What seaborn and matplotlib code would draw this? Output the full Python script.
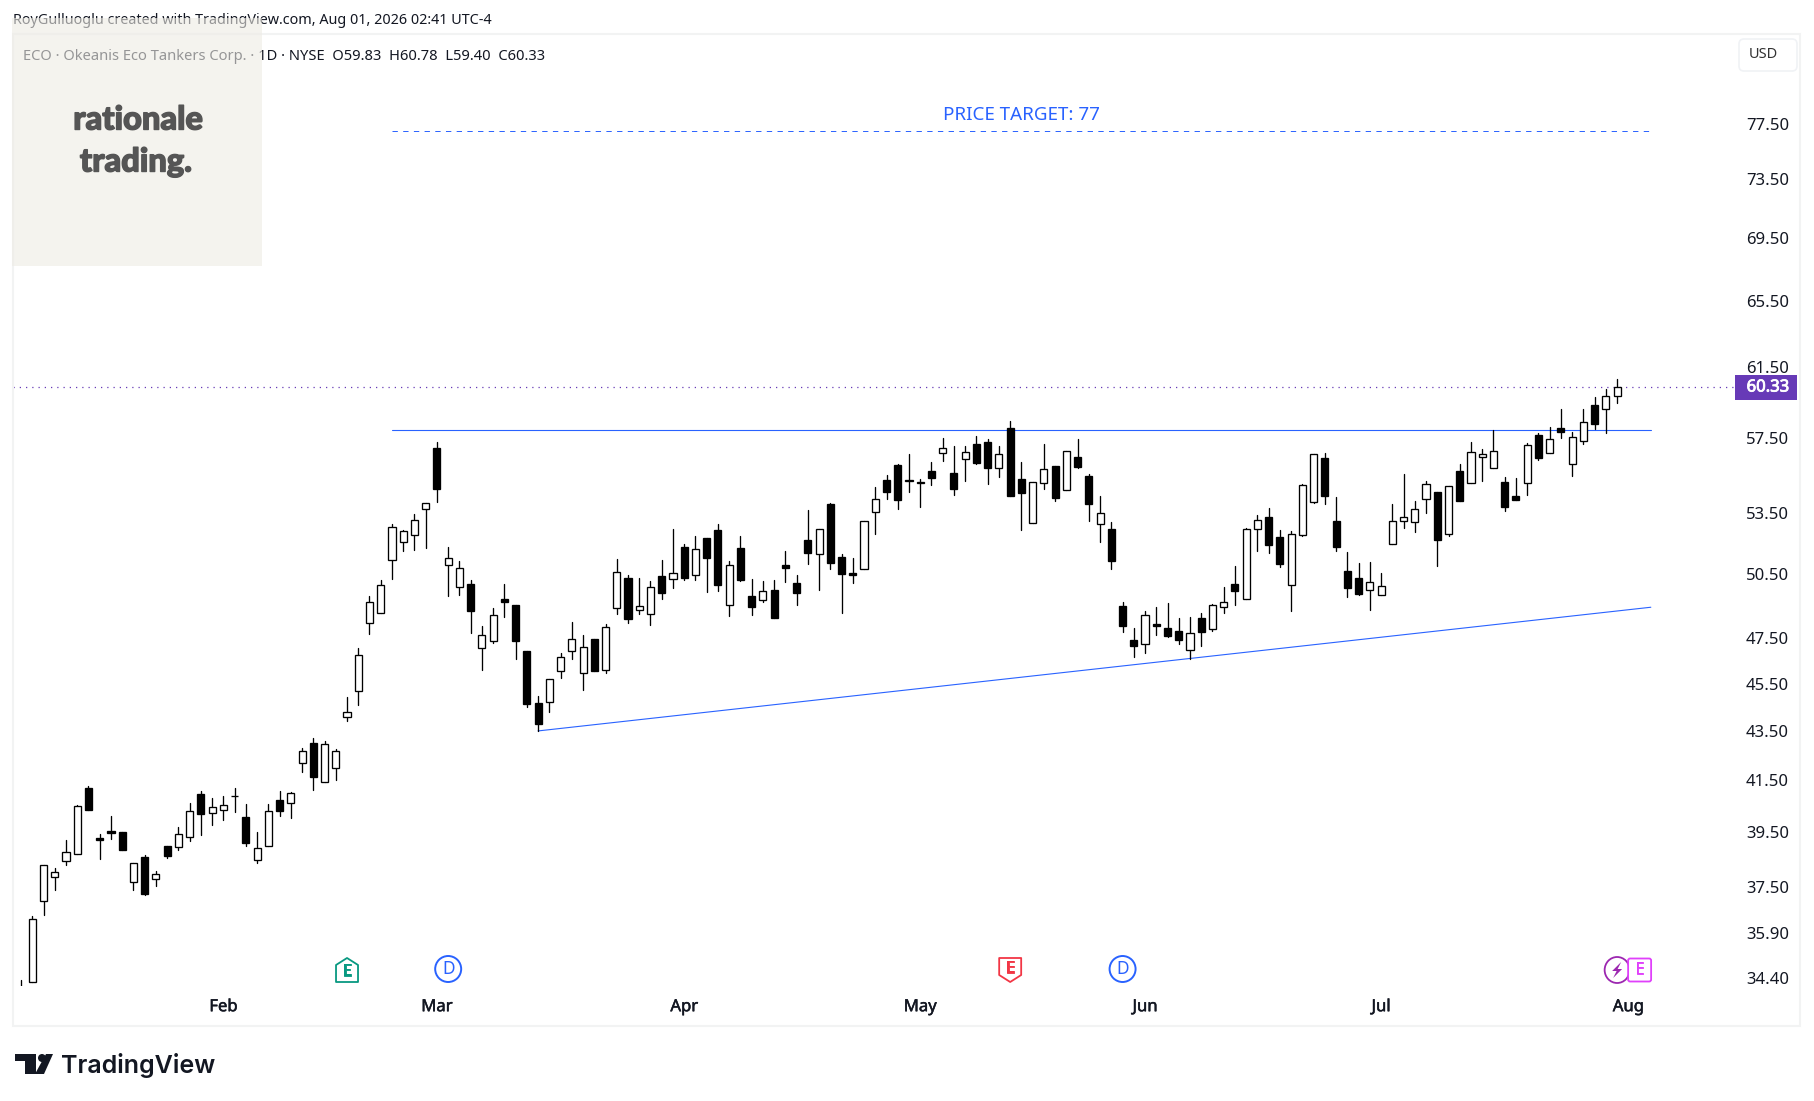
import numpy as np
import pandas as pd
import seaborn as sns
import matplotlib.pyplot as plt
import matplotlib.patheffects as pe
from matplotlib.patches import Rectangle, Polygon, Ellipse, FancyBboxPatch
from matplotlib.ticker import NullLocator

# daily candles, first one is mostly off the bottom of the pane
opens = [34.05,
    34.25, 36.99, 37.85, 38.44, 38.70, 41.20, 39.30, 39.55, 39.52, 37.67,
    38.60, 37.78, 39.00, 38.95, 39.32, 40.98, 40.23, 40.34, 40.88, 40.09,
    38.47, 38.99, 40.75, 40.62, 42.19, 43.01, 41.45, 41.99, 44.08, 45.18,
    48.19, 48.66, 51.18, 52.06, 52.40, 53.72, 56.94, 50.93, 49.87, 50.02,
    47.07, 47.38, 49.32, 49.04, 46.95, 44.68, 44.71, 46.05, 46.93, 45.96,
    47.48, 46.09, 48.89, 50.31, 48.79, 48.61, 50.40, 50.24, 51.83, 50.44,
    52.27, 52.66, 49.02, 51.78, 49.46, 49.25, 49.74, 50.95, 50.07, 52.17,
    51.45, 53.99, 51.34, 50.55, 50.76, 53.55, 55.22, 56.03, 55.17, 55.07,
    55.70, 56.66, 55.60, 56.33, 57.16, 57.26, 55.85, 58.02, 55.27, 53.00,
    55.05, 55.97, 54.69, 56.46, 55.43, 52.95, 52.71, 48.99, 47.44, 47.25,
    48.16, 47.97, 47.84, 46.96, 48.44, 47.94, 48.94, 50.02, 49.31, 52.70,
    53.33, 52.32, 49.96, 52.43, 54.06, 56.40, 53.12, 50.65, 50.31, 49.73,
    49.50, 51.96, 53.11, 53.05, 54.23, 54.61, 52.48, 55.70, 55.08, 56.47,
    55.88, 55.12, 54.40, 55.08, 57.64, 56.66, 58.02, 56.05, 57.33, 59.32,
    59.11, 59.83]
highs = [34.33,
    36.49, 38.29, 38.18, 39.22, 40.55, 41.29, 39.43, 40.13, 39.52, 38.36,
    38.67, 38.07, 39.00, 39.71, 40.63, 41.10, 40.83, 40.90, 41.21, 40.59,
    39.52, 40.59, 41.10, 41.05, 42.81, 43.22, 43.10, 42.77, 44.94, 47.08,
    49.46, 50.21, 52.97, 52.66, 53.48, 54.03, 57.26, 51.83, 51.14, 50.21,
    48.07, 48.91, 50.02, 49.04, 46.95, 44.98, 45.69, 46.86, 48.25, 47.66,
    47.48, 48.16, 51.24, 50.45, 50.31, 50.16, 51.19, 52.71, 51.97, 52.37,
    52.27, 52.97, 51.14, 52.37, 50.26, 50.16, 50.21, 51.63, 50.45, 53.68,
    52.70, 54.04, 51.48, 51.29, 53.11, 54.86, 55.49, 56.08, 56.62, 55.27,
    56.19, 57.48, 57.05, 57.05, 57.59, 57.43, 57.05, 58.42, 56.19, 55.10,
    57.16, 55.97, 56.77, 57.43, 55.54, 54.40, 53.07, 49.18, 47.97, 48.77,
    48.95, 49.14, 48.44, 48.49, 48.67, 49.09, 49.88, 50.90, 52.74, 53.43,
    53.79, 52.66, 52.61, 55.00, 56.60, 56.67, 54.35, 51.58, 51.04, 51.09,
    50.55, 53.99, 55.54, 54.15, 55.17, 54.61, 54.90, 56.08, 57.26, 56.89,
    57.89, 55.38, 55.33, 57.19, 57.75, 58.07, 59.09, 57.80, 59.09, 59.77,
    60.22, 60.78]
lows = [33.50,
    34.25, 36.50, 37.40, 38.31, 38.70, 40.33, 38.50, 39.26, 38.85, 37.38,
    37.23, 37.54, 38.56, 38.83, 39.16, 39.41, 39.78, 39.98, 40.29, 39.00,
    38.38, 38.99, 40.13, 40.05, 41.84, 41.13, 41.42, 41.52, 43.92, 44.60,
    47.70, 48.66, 50.26, 51.63, 51.68, 51.78, 54.10, 49.46, 49.51, 47.75,
    46.10, 47.30, 48.49, 46.59, 44.51, 43.50, 44.30, 45.75, 46.59, 45.24,
    46.06, 45.97, 48.63, 48.21, 48.63, 48.11, 49.32, 49.84, 50.21, 50.21,
    49.65, 49.70, 48.53, 50.16, 48.58, 49.18, 48.44, 50.12, 49.04, 51.00,
    49.74, 50.75, 48.67, 50.07, 50.76, 52.46, 54.25, 53.73, 54.61, 53.83,
    54.96, 56.24, 54.45, 55.17, 56.08, 55.02, 55.38, 54.40, 52.66, 53.00,
    54.76, 54.15, 54.69, 55.86, 53.12, 52.07, 50.75, 47.79, 46.68, 46.86,
    47.66, 47.57, 47.26, 46.59, 47.17, 47.85, 48.67, 49.04, 49.31, 51.63,
    51.53, 50.85, 48.77, 52.38, 54.01, 53.99, 51.63, 49.41, 49.51, 48.81,
    49.50, 51.96, 52.76, 52.56, 53.53, 50.90, 52.37, 54.15, 55.08, 55.17,
    55.88, 53.63, 54.20, 54.45, 56.30, 56.66, 57.48, 55.43, 57.16, 57.97,
    57.75, 59.40]
closes = [33.60,
    36.37, 38.29, 38.03, 38.77, 40.50, 40.33, 39.22, 39.48, 38.85, 38.36,
    37.26, 37.96, 38.63, 39.43, 40.31, 40.18, 40.45, 40.54, 40.90, 39.12,
    38.92, 40.31, 40.32, 41.01, 42.68, 41.64, 42.96, 42.68, 44.29, 46.76,
    49.17, 49.96, 52.80, 52.60, 53.16, 54.03, 54.76, 51.27, 50.78, 48.77,
    47.65, 48.57, 49.18, 47.39, 44.64, 43.79, 45.69, 46.67, 47.47, 47.11,
    46.06, 48.01, 50.59, 48.40, 48.98, 49.87, 49.60, 50.54, 50.31, 51.71,
    51.29, 49.98, 50.93, 50.21, 48.95, 49.68, 48.44, 50.80, 49.60, 51.53,
    52.70, 51.05, 50.50, 50.45, 53.11, 54.23, 54.61, 54.20, 55.22, 55.12,
    55.33, 56.93, 54.76, 56.71, 56.13, 55.86, 56.60, 54.40, 54.56, 55.10,
    55.79, 54.30, 56.77, 55.92, 53.99, 53.51, 51.14, 48.07, 47.17, 48.57,
    48.07, 47.61, 47.44, 47.73, 47.79, 49.03, 49.17, 49.70, 52.70, 53.16,
    51.92, 51.00, 52.45, 54.95, 56.60, 54.40, 51.83, 49.84, 49.56, 50.10,
    49.92, 53.11, 53.31, 53.72, 55.00, 52.17, 54.90, 54.15, 56.71, 56.60,
    56.77, 53.83, 54.20, 57.09, 56.40, 57.41, 57.80, 57.52, 58.34, 58.25,
    59.81, 60.33]

price_ticks = [77.5, 73.5, 69.5, 65.5, 61.5, 57.5, 53.5, 50.5, 47.5, 45.5, 43.5, 41.5, 39.5, 37.5, 35.9, 34.4]
month_labels = ['Feb', 'Mar', 'Apr', 'May', 'Jun', 'Jul', 'Aug']
month_days = [17, 36, 58, 79, 99, 120, 142]

resistance_days = [32, 144]
resistance_prices = [57.9, 57.9]
support_days = [45, 144]
support_prices = [43.5, 48.93]
target_days = [32, 144]
target_prices = [76.94, 76.94]
last_price = 60.33

df = pd.DataFrame({'day': np.arange(-1, len(opens) - 1), 'open': opens, 'high': highs, 'low': lows, 'close': closes})
df['up'] = df['close'] >= df['open']

sns.set_theme(style='white')
plt.rcParams['font.family'] = ['Noto Sans', 'DejaVu Sans']

W, H = 1814, 1101
fig = plt.figure(figsize=(W / 100, H / 100), dpi=100, facecolor='white')

# overlay in pixels for the page furniture
over = fig.add_axes([0, 0, 1, 1], zorder=5)
over.set_xlim(0, W)
over.set_ylim(H, 0)
over.axis('off')
over.patch.set_alpha(0)

# price pane
ax = fig.add_axes([13 / W, (H - 986) / H, (1735 - 13) / W, (986 - 34) / H], zorder=2)
ax.patch.set_alpha(0)
ax.set_yscale('log')

blue = '#2962FF'
sns.lineplot(x=resistance_days, y=resistance_prices, color=blue, linewidth=0.8, ax=ax, zorder=0.5)
sns.lineplot(x=support_days, y=support_prices, color=blue, linewidth=0.8, ax=ax, zorder=0.5)
sns.lineplot(x=target_days, y=target_prices, color=blue, linewidth=0.7, ax=ax, zorder=0.5, linestyle=(0, (5.5, 5.5)))
ax.axhline(last_price, color='#673AB7', linewidth=0.9, linestyle=(0, (1, 4)), zorder=0)

wicks = df.melt(id_vars='day', value_vars=['high', 'low'], value_name='price')
sns.lineplot(data=wicks, x='day', y='price', units='day', estimator=None, sort=False,
             color='black', linewidth=0.95, ax=ax, zorder=1, legend=False)
ax.bar(df['day'], (df['close'] - df['open']).abs(), bottom=df[['open', 'close']].min(axis=1), width=0.63,
       color=np.where(df['up'], 'white', 'black'), edgecolor='black', linewidth=0.95, zorder=2)

ax.text(88, 78.15, 'PRICE TARGET: 77', color=blue, fontsize=13.5, ha='center', va='center')

ax.set_xlim(-1.717, 151.49)
ax.set_ylim(34.13, 84.40)
ax.yaxis.tick_right()
ax.set_yticks(price_ticks)
ax.set_yticklabels(['%.2f' % p for p in price_ticks], fontsize=12, color='#131722')
ax.yaxis.set_minor_locator(NullLocator())
ax.set_xticks(month_days)
ax.set_xticklabels(month_labels, fontsize=12, color='#131722')
ax.tick_params(axis='x', length=0, pad=9.5)
ax.tick_params(axis='y', length=0, pad=8)
for lab in ax.get_xticklabels():
    lab.set_path_effects([pe.withStroke(linewidth=0.35, foreground='#131722')])
ax.set_xlabel('')
ax.set_ylabel('')
sns.despine(ax=ax, left=True, bottom=True, right=True, top=True)

# frame around pane and axes
over.add_patch(Rectangle((13, 34), 1787, 992, fill=False, edgecolor='#F2F3F3', linewidth=1.5, zorder=1))

# header text sits under the translucent logo box
over.text(13, 21, 'RoyGulluoglu created with TradingView.com, Aug 01, 2026 02:41 UTC-4',
          fontsize=10.35, color='#131722', va='center', zorder=2)
over.text(23, 56, 'ECO · Okeanis Eco Tankers Corp. · 1D · NYSE  O59.83  H60.78  L59.40  C60.33',
          fontsize=10.6, color='#131722', va='center', zorder=2)
over.add_patch(Rectangle((12, 18), 250, 248, facecolor='#EDEBE4', edgecolor='none', alpha=0.6, zorder=3))
fat = [pe.withStroke(linewidth=1.0, foreground='#555555')]
over.text(138, 120, 'rationale', family='Lato', fontweight='black', fontsize=23.5, color='#555555',
          ha='center', va='center', zorder=4, path_effects=fat)
over.text(136, 162, 'trading.', family='Lato', fontweight='black', fontsize=23.5, color='#555555',
          ha='center', va='center', zorder=4, path_effects=fat)

# USD button
over.add_patch(FancyBboxPatch((1742, 42), 52, 26, boxstyle='round,pad=3,rounding_size=5',
                              facecolor='white', edgecolor='#F0F2F5', linewidth=1.2))
over.text(1763, 55, 'USD', fontsize=10.5, color='#333333', ha='center', va='center')

# last price badge
over.add_patch(Rectangle((1735, 375), 62, 25, facecolor='#673AB7', edgecolor='none'))
over.text(1768, 387.5, '60.33', fontsize=12, color='white', ha='center', va='center',
          path_effects=[pe.withStroke(linewidth=0.6, foreground='white')])


def day_x(d):
    return 32.3 + 11.24 * d


# event markers along the bottom of the pane
def earnings(d, color, up):
    x, y = day_x(d), 970
    if up:
        pts = [(x, y - 12), (x + 11, y - 5), (x + 11, y + 12), (x - 11, y + 12), (x - 11, y - 5)]
    else:
        pts = [(x, y + 12), (x + 11, y + 5), (x + 11, y - 12), (x - 11, y - 12), (x - 11, y + 5)]
    over.add_patch(Polygon(pts, closed=True, facecolor='white', edgecolor=color, linewidth=1.3, joinstyle='round'))
    over.text(x, y + (1.5 if up else -1.5), 'E', color=color, fontsize=12, ha='center', va='center',
              path_effects=[pe.withStroke(linewidth=0.6, foreground=color)])


def dividend(d):
    x, y = day_x(d), 969
    over.add_patch(Ellipse((x, y), 26, 26, facecolor='white', edgecolor=blue, linewidth=1.4))
    over.text(x, y, 'D', color=blue, fontsize=12.5, ha='center', va='center')


earnings(28, '#089981', True)
dividend(37)
earnings(87, '#F23645', False)
dividend(97)

# split marker and next earnings at the last bars
x0 = day_x(141)
over.add_patch(Ellipse((x0, 970), 25, 26, facecolor='white', edgecolor='#9C27B0', linewidth=1.3))
over.add_patch(Polygon([(x0 + 4, 962), (x0 - 5, 971), (x0 - 0.5, 971), (x0 - 4, 978), (x0 + 5, 969), (x0 + 0.5, 969)],
                       closed=True, facecolor='#9C27B0', edgecolor='none'))
x1 = day_x(143)
over.add_patch(FancyBboxPatch((x1 - 10, 960), 20, 20, boxstyle='round,pad=1.5,rounding_size=2',
                              facecolor='white', edgecolor='#E040FB', linewidth=1.3))
over.text(x1, 970, 'E', color='#E040FB', fontsize=12, ha='center', va='center',
          path_effects=[pe.withStroke(linewidth=0.6, foreground='#E040FB')])

# TradingView footer
logo = '#131722'
over.add_patch(Polygon([(15, 1054), (36, 1054), (36, 1074), (25, 1074), (25, 1061), (15, 1061)], closed=True,
                       facecolor=logo, edgecolor='none'))
over.add_patch(Ellipse((42, 1058), 8, 8, facecolor=logo, edgecolor='none'))
over.add_patch(Polygon([(46, 1054), (53, 1054), (44, 1074), (35, 1074)], closed=True, facecolor=logo, edgecolor='none'))
over.text(61, 1066, 'TradingView', family='Inter', fontweight='semibold', fontsize=18, color=logo, va='center')

fig.savefig('out.png', dpi=100)
